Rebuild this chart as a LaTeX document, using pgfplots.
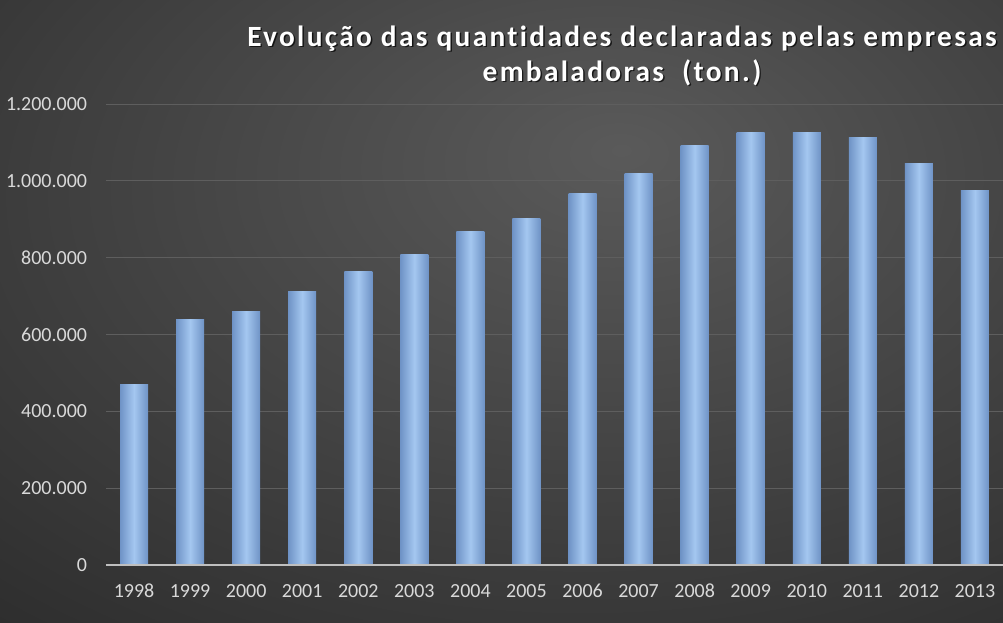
\documentclass[border=0pt]{standalone}
\usepackage{pgfplots}
\pgfplotsset{compat=1.18}
\usepackage{fontspec}
\setmainfont{Carlito}
\newfontfamily\titlefont[LetterSpace=8, Ligatures=NoCommon]{Carlito}
\definecolor{bgin}{HTML}{5A5A5A}
\definecolor{bgout}{HTML}{222222}
\definecolor{barmid}{HTML}{A4C7F0}
\definecolor{baredge}{HTML}{6F93C6}
\definecolor{ticktext}{HTML}{D9D9D9}
\definecolor{gridc}{HTML}{5E5E5E}
\definecolor{axisc}{HTML}{BFBFBF}
\pgfdeclareradialshading{bgshade}{\pgfpoint{6bp}{13bp}}{color(0bp)=(bgin); color(55bp)=(bgout); color(100bp)=(bgout)}
\pgfplotsset{onebar/.style={ybar, bar width=21pt, draw=none, left color=baredge, right color=baredge, middle color=barmid}}
\begin{document}
\begin{tikzpicture}
\useasboundingbox (0,0) rectangle (752.25pt,467.25pt);
\fill[shading=bgshade] (0,0) rectangle (752.25pt,467.25pt);
\node[font=\titlefont\bfseries\fontsize{22}{26.25}\selectfont, text=black, opacity=0.7, align=center] at (467.6pt,424.5pt) {Evolução das quantidades declaradas pelas empresas\\embaladoras~~(ton.)};
\node[font=\titlefont\bfseries\fontsize{22}{26.25}\selectfont, text=white, align=center] at (466.5pt,425.6pt) {Evolução das quantidades declaradas pelas empresas\\embaladoras~~(ton.)};
\begin{axis}[
  at={(79.5pt,43.5pt)}, anchor=south west,
  scale only axis, width=672.75pt, height=345.75pt,
  xmin=-0.5, xmax=15.5, ymin=0, ymax=1200000,
  xtick={0,...,15},
  xticklabels={1998,1999,2000,2001,2002,2003,2004,2005,2006,2007,2008,2009,2010,2011,2012,2013},
  ytick={0,200000,400000,600000,800000,1000000,1200000},
  scaled y ticks=false,
  /pgf/number format/.cd, fixed, 1000 sep={.}, assume math mode=true,
  /pgfplots/.cd,
  ymajorgrids, grid style={gridc, line width=0.6pt},
  major tick length=0pt,
  axis line style={draw=none},
  axis x line*=bottom, axis y line*=left,
  ticklabel style={font=\fontsize{15}{18}\selectfont, text=ticktext},
  yticklabel style={inner sep=0pt, xshift=-14pt},
  xticklabel style={inner sep=0pt, text height=9.6pt, yshift=-14.5pt},
  clip=false,
]
\addplot[onebar] coordinates {(0,471000)};
\addplot[onebar] coordinates {(1,638000)};
\addplot[onebar] coordinates {(2,661000)};
\addplot[onebar] coordinates {(3,711000)};
\addplot[onebar] coordinates {(4,765000)};
\addplot[onebar] coordinates {(5,807000)};
\addplot[onebar] coordinates {(6,867000)};
\addplot[onebar] coordinates {(7,901000)};
\addplot[onebar] coordinates {(8,968000)};
\addplot[onebar] coordinates {(9,1018000)};
\addplot[onebar] coordinates {(10,1093000)};
\addplot[onebar] coordinates {(11,1125000)};
\addplot[onebar] coordinates {(12,1127000)};
\addplot[onebar] coordinates {(13,1114000)};
\addplot[onebar] coordinates {(14,1044000)};
\addplot[onebar] coordinates {(15,976000)};
\draw[axisc, line width=1.5pt] (axis cs:-0.5,0) -- (axis cs:15.5,0);
\end{axis}
\end{tikzpicture}
\end{document}
